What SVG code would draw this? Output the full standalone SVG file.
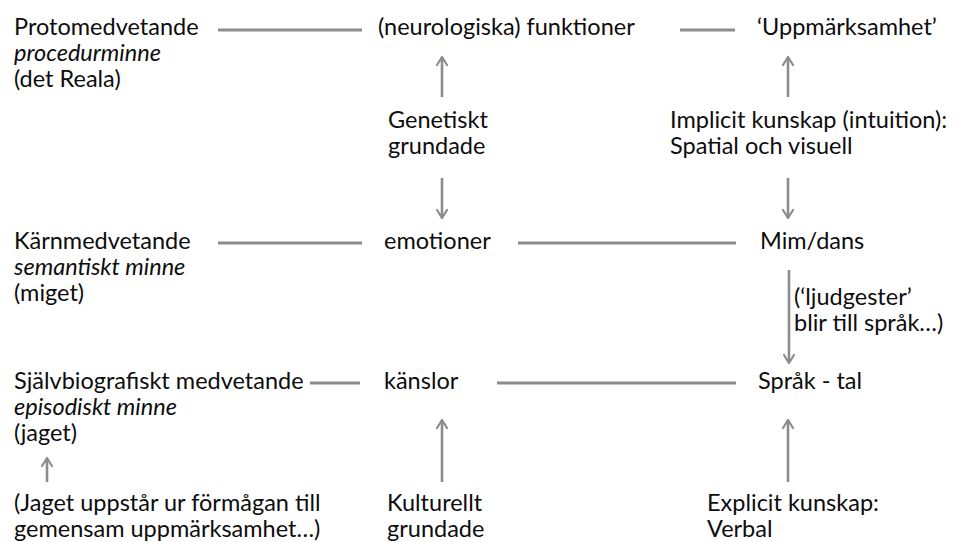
<svg xmlns="http://www.w3.org/2000/svg" width="959" height="542" viewBox="0 0 959 542">
  <defs>
    <marker id="head" viewBox="0 0 12 12" refX="10" refY="6" markerWidth="12" markerHeight="12" markerUnits="userSpaceOnUse" orient="auto">
      <path d="M2,1 L10,6 L2,11" fill="none" stroke="#8c8c8c" stroke-width="2.2" stroke-linecap="round" stroke-linejoin="round"/>
    </marker>
    <filter id="soft" x="-5%" y="-50%" width="110%" height="200%">
      <feGaussianBlur stdDeviation="0.5"/>
    </filter>
  </defs>
  <style>
    text { font-family: Lato, "Open Sans", "DejaVu Sans", sans-serif; font-size: 23.5px; fill: #0d0d0d; }
    .it { font-style: italic; }
    .link { stroke: #8c8c8c; stroke-width: 3; fill: none; }
    .arr { stroke: #8c8c8c; stroke-width: 2.6; fill: none; marker-end: url(#head); }
  </style>
  <rect width="959" height="542" fill="#fff"/>

  <!-- connectors: plain links and arrows -->
  <g id="connectors" filter="url(#soft)">
    <line class="link" x1="218" y1="30" x2="362" y2="30"/>
    <line class="link" x1="680" y1="30" x2="735" y2="30"/>
    <line class="link" x1="218" y1="243" x2="362" y2="243"/>
    <line class="link" x1="518" y1="243" x2="736" y2="243"/>
    <line class="link" x1="310" y1="383" x2="360" y2="383"/>
    <line class="link" x1="497" y1="383" x2="736" y2="383"/>
    <line class="arr" x1="442" y1="97" x2="442" y2="57"/>
    <line class="arr" x1="442" y1="178" x2="442" y2="218"/>
    <line class="arr" x1="788" y1="97" x2="788" y2="57"/>
    <line class="arr" x1="788" y1="178" x2="788" y2="218"/>
    <line class="arr" x1="789" y1="270" x2="789" y2="363"/>
    <line class="arr" x1="442" y1="482" x2="442" y2="420"/>
    <line class="arr" x1="788" y1="482" x2="788" y2="420"/>
    <line class="arr" x1="47" y1="482" x2="47" y2="458"/>
  </g>

  <!-- left column -->
  <g id="protomedvetande">
    <text x="14" y="35">Protomedvetande</text>
    <text class="it" x="14" y="61">procedurminne</text>
    <text x="14" y="87">(det Reala)</text>
  </g>
  <g id="karnmedvetande">
    <text x="14" y="249">Kärnmedvetande</text>
    <text class="it" x="14" y="275">semantiskt minne</text>
    <text x="14" y="301">(miget)</text>
  </g>
  <g id="sjalvbiografiskt">
    <text x="14" y="389">Självbiografiskt medvetande</text>
    <text class="it" x="14" y="415">episodiskt minne</text>
    <text x="14" y="441">(jaget)</text>
  </g>
  <g id="jaget-note">
    <text x="14" y="511">(Jaget uppstår ur förmågan till</text>
    <text x="14" y="537">gemensam uppmärksamhet…)</text>
  </g>

  <!-- middle column -->
  <g id="funktioner">
    <text x="378" y="35">(neurologiska) funktioner</text>
  </g>
  <g id="genetiskt">
    <text x="388" y="128">Genetiskt</text>
    <text x="388" y="154">grundade</text>
  </g>
  <g id="emotioner">
    <text x="384" y="249">emotioner</text>
  </g>
  <g id="kanslor">
    <text x="384" y="389">känslor</text>
  </g>
  <g id="kulturellt">
    <text x="387" y="511">Kulturellt</text>
    <text x="387" y="537">grundade</text>
  </g>

  <!-- right column -->
  <g id="uppmarksamhet">
    <text x="757" y="35">‘Uppmärksamhet’</text>
  </g>
  <g id="implicit">
    <text x="670" y="128">Implicit kunskap (intuition):</text>
    <text x="670" y="154">Spatial och visuell</text>
  </g>
  <g id="mimdans">
    <text x="760" y="249">Mim/dans</text>
  </g>
  <g id="ljudgester">
    <text x="794" y="305">(‘ljudgester’</text>
    <text x="794" y="331">blir till språk…)</text>
  </g>
  <g id="sprak">
    <text x="758" y="389">Språk - tal</text>
  </g>
  <g id="explicit">
    <text x="707" y="511">Explicit kunskap:</text>
    <text x="707" y="537">Verbal</text>
  </g>
</svg>
